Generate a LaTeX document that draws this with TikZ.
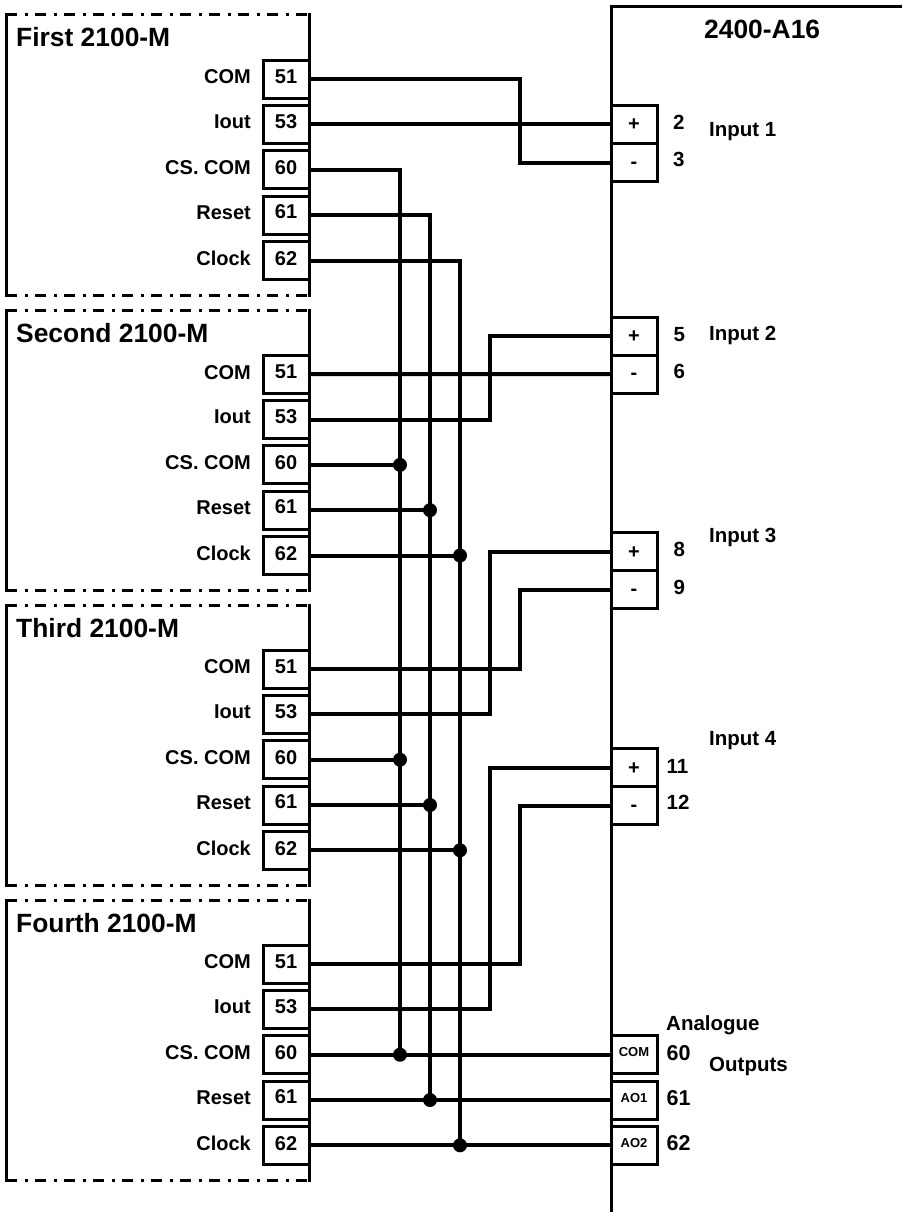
\documentclass[tikz,border=0pt]{standalone}
\usepackage{fontspec}
\setmainfont{Liberation Sans}
\tikzset{
  x=1pt,y=-1pt,
  term/.style={draw,line width=3pt,minimum width=46pt,minimum height=38pt,inner sep=0pt,outer sep=0pt,text depth=0pt,font=\fontsize{20}{22}\selectfont\bfseries},
  sig/.style={anchor=base east,inner sep=0pt,font=\fontsize{20}{22}\selectfont\bfseries},
  title/.style={anchor=base west,inner sep=0pt,font=\fontsize{26.4}{28}\selectfont\bfseries},
  txt/.style={anchor=base west,inner sep=0pt,font=\fontsize{20.5}{22}\selectfont\bfseries},
  num/.style={anchor=base west,inner sep=0pt,font=\fontsize{21.5}{23}\selectfont\bfseries},
  small/.style={font=\fontsize{13}{14}\selectfont\bfseries,text height=4.2pt},
  wire/.style={line width=4pt},
  edge/.style={line width=3pt},
  chain/.style={line width=3pt,dash pattern=on 11pt off 8pt on 3pt off 7pt},
  jn/.style={circle,fill=black,minimum size=14pt,inner sep=0pt,outer sep=0pt},
}
\newcommand{\termrow}[6]{% prefix, terminal, wire y, signal, digit height, label offset
  \node[term,text height=#5] (#1#2) at (286,#3) {#2};
  \node[sig] (#1#2s) at (251,#3+#6) {#4};
}
\newcommand{\modblock}[5]{% prefix, top, bottom, title, y of terminal 51
  \draw[chain] (6,#2) -- (309,#2);
  \draw[chain] (6,#3) -- (309,#3);
  \draw[edge] (6,#2-1.5) -- (6,#3+1.5);
  \draw[edge] (309,#2-1.5) -- (309,#3+1.5);
  \node[title] (#1title) at (16,#2+32) {#4};
  \termrow{#1}{51}{#5}{COM}{8.2pt}{4.8}
  \termrow{#1}{53}{#5+45.3}{Iout}{8.4pt}{4.2}
  \termrow{#1}{60}{#5+90.7}{CS. COM}{9.6pt}{4.8}
  \termrow{#1}{61}{#5+136}{Reset}{6.2pt}{4.1}
  \termrow{#1}{62}{#5+181.3}{Clock}{10.4pt}{5.2}
}
\begin{document}
\begin{tikzpicture}
\useasboundingbox (0,0) rectangle (902,1212);
\coordinate (busA) at (520,0);
\coordinate (busB) at (490,0);
\coordinate (busC) at (400,0);
\coordinate (busD) at (430,0);
\coordinate (busE) at (460,0);

\modblock{a}{15}{295}{First 2100-M}{79.2}
\modblock{b}{310}{590}{Second 2100-M}{374.2}
\modblock{c}{605}{885}{Third 2100-M}{669}
\modblock{d}{900}{1180}{Fourth 2100-M}{964}

% 2400-A16 outline
\draw[edge] (902,7) -- (611,7) -- (611,1212);
\node[title] (unit) at (704,39) {2400-A16};

% input terminals
\foreach \nm/\sym/\yy/\hh in {r2/+/124.5/13pt,r3/-/162.5/11pt,r5/+/336/13pt,r6/-/374/11pt,r8/+/551.7/13pt,r9/-/589.7/11pt,r11/+/767.5/13pt,r12/-/805.5/11pt}{
  \node[term,text height=\hh] (\nm) at (634,\yy) {\sym};
}
\node[term,small] (rCOM) at (634,1054.3) {COM};
\node[term,small] (rAO1) at (634,1100) {AO1};
\node[term,small] (rAO2) at (634,1145.3) {AO2};

% numbers and labels at the unit
\node[txt] (n2) at (673,130) {2};
\node[txt] (n3) at (673,166.7) {3};
\node[txt] (n5) at (673.5,341.7) {5};
\node[txt] (n6) at (673.5,378.3) {6};
\node[txt] (n8) at (673.5,556.7) {8};
\node[txt] (n9) at (673.5,594) {9};
\node[txt] (n11) at (666.5,773.3) {11};
\node[txt] (n12) at (666.5,809.3) {12};
\node[num] (n60) at (666.5,1060) {60};
\node[num] (n61) at (666.5,1105) {61};
\node[num] (n62) at (666.5,1150.7) {62};
\node[txt] (in1) at (709,136.7) {Input 1};
\node[txt] (in2) at (709,340) {Input 2};
\node[txt] (in3) at (709,542.7) {Input 3};
\node[txt] (in4) at (709,745.7) {Input 4};
\node[txt] (ana) at (666,1030.7) {Analogue};
\node[txt] (out) at (709,1071.7) {Outputs};

% signal wires
\draw[wire] (a51.east) -- (a51.east -| busA) -- (r3.west -| busA) -- (r3.west);
\draw[wire] (a53.east) -- (a53.east -| r2.west);
\draw[wire] (b51.east) -- (r6.west);
\draw[wire] (b53.east) -- (b53.east -| busB) -- (r5.west -| busB) -- (r5.west);
\draw[wire] (c51.east) -- (c51.east -| busA) -- (r9.west -| busA) -- (r9.west);
\draw[wire] (c53.east) -- (c53.east -| busB) -- (r8.west -| busB) -- (r8.west);
\draw[wire] (d51.east) -- (d51.east -| busA) -- (r12.west -| busA) -- (r12.west);
\draw[wire] (d53.east) -- (d53.east -| busB) -- (r11.west -| busB) -- (r11.west);

% daisy-chained buses
\draw[wire] (a60.east) -- (a60.east -| busC) -- (d60.east -| busC);
\draw[wire] (a61.east) -- (a61.east -| busD) -- (d61.east -| busD);
\draw[wire] (a62.east) -- (a62.east -| busE) -- (d62.east -| busE);
\draw[wire] (d60.east) -- (d60.east -| rCOM.west);
\draw[wire] (d61.east) -- (d61.east -| rAO1.west);
\draw[wire] (d62.east) -- (d62.east -| rAO2.west);
\foreach \p in {b,c}{
  \draw[wire] (\p60.east) -- (\p60.east -| busC);
  \draw[wire] (\p61.east) -- (\p61.east -| busD);
  \draw[wire] (\p62.east) -- (\p62.east -| busE);
}
\foreach \p in {b,c,d}{
  \node[jn] (\p60j) at (\p60.east -| busC) {};
  \node[jn] (\p61j) at (\p61.east -| busD) {};
  \node[jn] (\p62j) at (\p62.east -| busE) {};
}
\end{tikzpicture}
\end{document}
